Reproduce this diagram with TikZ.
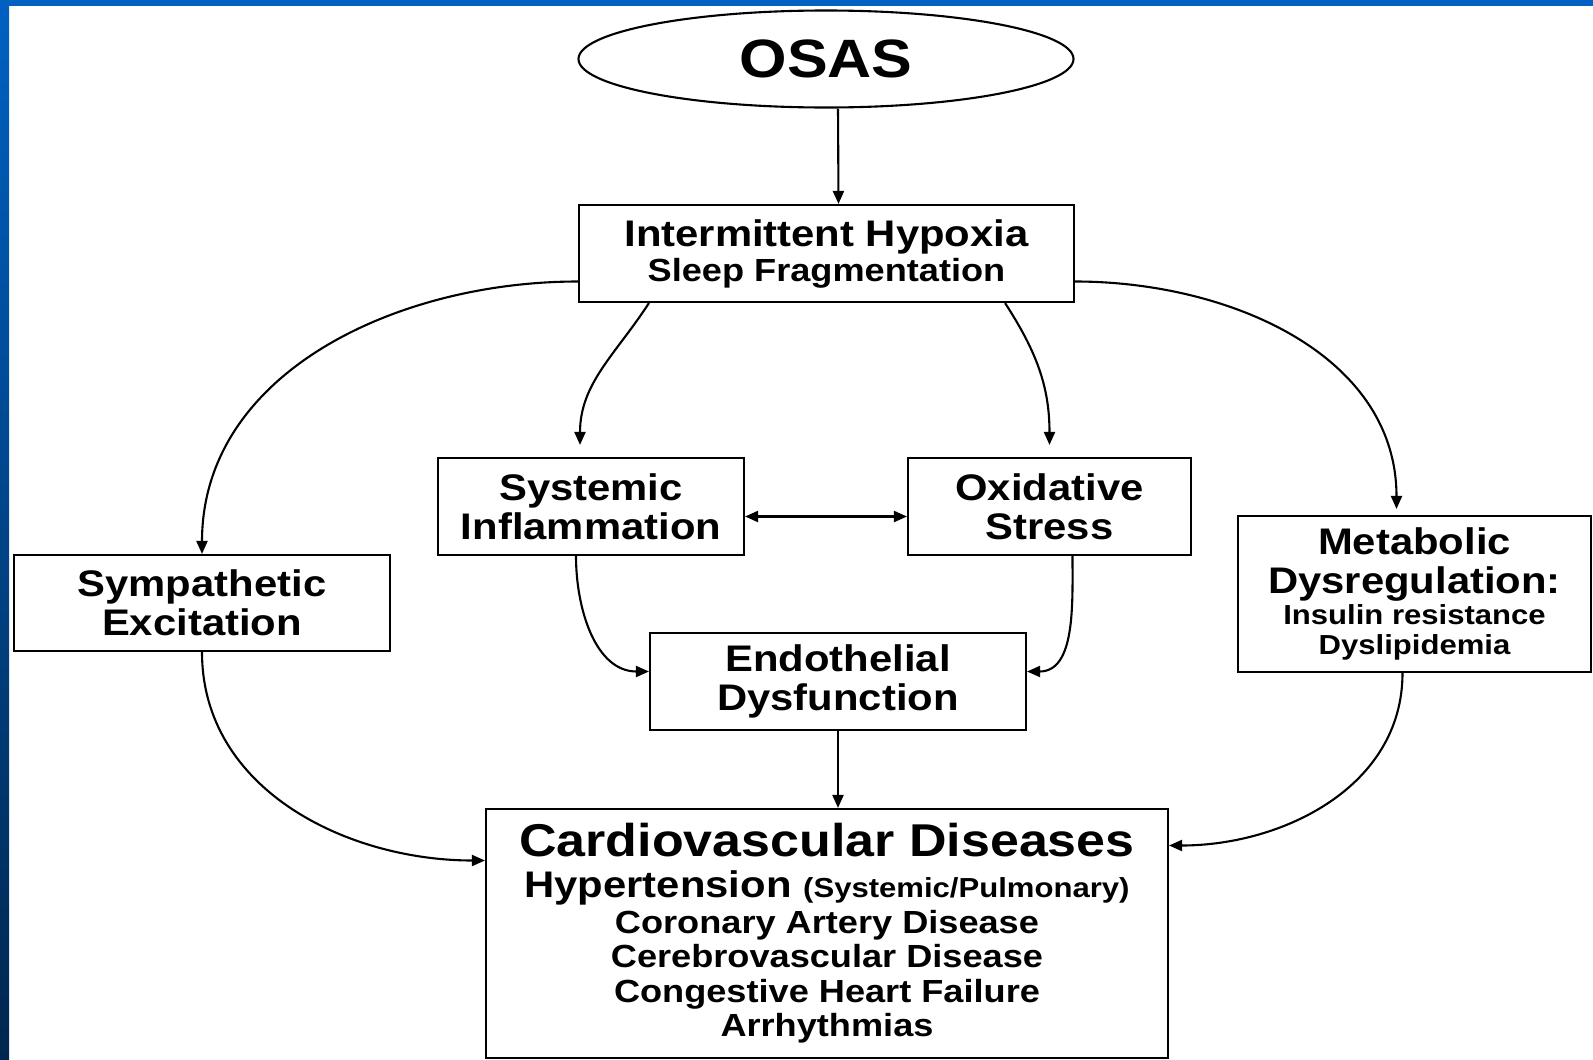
\documentclass[tikz,border=0pt]{standalone}
\usepackage{fontspec}
\setmainfont{Liberation Sans}[FakeStretch=1.13]
\usetikzlibrary{shapes.geometric,arrows.meta}

\definecolor{slideblue}{HTML}{0061C2}
\definecolor{slidenavy}{HTML}{00274F}

\newcommand{\smalltext}{\fontsize{27.5}{30}\selectfont}
\newcommand{\midtext}{\fontsize{32}{35}\selectfont}

\tikzset{
    box/.style={draw, align=center, inner sep=0pt, font=\bfseries\fontsize{37}{39}\selectfont},
}

\begin{document}
\begin{tikzpicture}[x=1pt, y=-1pt, line width=2.1pt, >={Triangle[length=13pt,width=11pt]}]
        \useasboundingbox (0,0) rectangle (1593,1060);
        \fill[white] (0,0) rectangle (1593,1060);
        \fill[slideblue] (0,0) rectangle (1593,6);
        \shade[top color=slideblue, bottom color=slidenavy] (0,0) rectangle (9,1060);

        \node[ellipse, draw, minimum width=495pt, minimum height=97pt, inner sep=0pt, font=\bfseries\fontsize{54}{60}\selectfont] (osas) at (826,59) {OSAS};
        \node[box, minimum width=495pt, minimum height=97pt] (hypox) at (826.5,253.5) {Intermittent Hypoxia\\[-4pt]{\midtext Sleep Fragmentation}};
        \node[box, minimum width=306pt, minimum height=97pt] (inflam) at (591,506.5) {Systemic\\Inflammation};
        \node[box, minimum width=283pt, minimum height=97pt] (oxid) at (1049.5,506.5) {Oxidative\\Stress};
        \node[box, minimum width=376pt, minimum height=96pt] (symp) at (202,603) {Sympathetic\\Excitation};
        \node[box, minimum width=353pt, minimum height=156pt] (metab) at (1414.5,594) {Metabolic\\Dysregulation:\\[-8pt]{\smalltext Insulin resistance}\\[-9pt]{\smalltext Dyslipidemia}};
        \node[box, minimum width=376pt, minimum height=97pt] (endo) at (838,681.5) {Endothelial\\Dysfunction};
        \node[box, minimum width=682pt, minimum height=249pt, font=\bfseries\fontsize{37}{35}\selectfont] (cvd) at (827,933.5) {{\fontsize{46}{50}\selectfont Cardiovascular Diseases}\\[6pt]Hypertension {\smalltext (Systemic/Pulmonary)}\\[1pt]{\midtext Coronary Artery Disease}\\[-1pt]{\midtext Cerebrovascular Disease}\\{\midtext Congestive Heart Failure}\\[-1pt]{\midtext Arrhythmias}};

        \draw[->] ([xshift=12pt]osas.south) -- ([xshift=12pt]hypox.north);
        \draw[->] ([yshift=-28pt]hypox.west) to[out=180, in=90] (symp.north);
        \draw[->] ([xshift=71pt]hypox.south west) to[out=237, in=90] ([xshift=-11pt, yshift=12pt]inflam.north);
        \draw[->] ([xshift=-70pt]hypox.south east) to[out=-57, in=90] ([yshift=12pt]oxid.north);
        \draw[->] ([yshift=-28pt]hypox.east) to[out=0, in=90] ([xshift=-18pt, yshift=6pt]metab.north);
        \draw[<->] ([yshift=-10pt]inflam.east) -- ([yshift=-10pt]oxid.west);
        \draw[->] ([xshift=-15pt]inflam.south) to[out=-90, in=180] ([yshift=10pt]endo.west);
        \draw[->] ([xshift=23pt]oxid.south) to[out=-90, in=0] ([yshift=10pt]endo.east);
        \draw[->] (endo.south) -- (endo.south |- cvd.north);
        \draw[->] (symp.south) to[out=-90, in=180] ([yshift=73pt]cvd.west);
        \draw[->] ([xshift=-12pt]metab.south) to[out=-90, in=0] ([yshift=88pt]cvd.east);
    \end{tikzpicture}
\end{document}
